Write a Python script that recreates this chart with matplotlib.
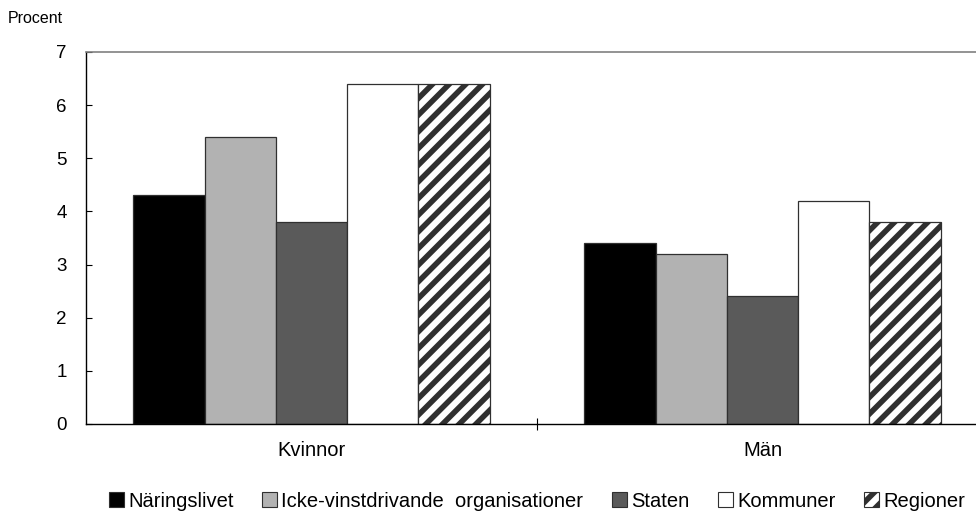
import matplotlib
matplotlib.use("Agg")
import matplotlib.pyplot as plt
import numpy as np
from matplotlib.patches import Patch

plt.rcParams['font.family'] = ['Liberation Sans', 'DejaVu Sans']
plt.rcParams['hatch.linewidth'] = 4.0

categories = ["Kvinnor", "Män"]
series = ["Näringslivet", "Icke-vinstdrivande  organisationer", "Staten", "Kommuner", "Regioner"]
naringslivet = [4.3, 3.4]
icke_vinst = [5.4, 3.2]
staten = [3.8, 2.4]
kommuner = [6.4, 4.2]
regioner = [6.4, 3.8]
values = [naringslivet, icke_vinst, staten, kommuner, regioner]
yticks = [0, 1, 2, 3, 4, 5, 6, 7]

facecolors = ["#000000", "#b2b2b2", "#5a5a5a", "#ffffff", "#ffffff"]
hatches = [None, None, None, None, "//"]

fig = plt.figure(figsize=(9.76, 5.13), dpi=100)
ax = fig.add_axes([86/976, 89/513, 902/976, 372/513])

x = np.arange(len(categories))
w = 0.158
for i, (vals, fc, h) in enumerate(zip(values, facecolors, hatches)):
    ax.bar(x + (i - 2) * w, vals, width=w, color=fc, edgecolor="#303030",
           linewidth=0.9, hatch=h, label=series[i], zorder=2)

ax.set_xlim(-0.5, 1.5)
ax.set_ylim(0, 7)
ax.set_yticks(yticks)
ax.tick_params(axis='y', direction='in', length=4, width=0.8, pad=14, labelsize=13.5)
ax.set_xticks([0.5])
ax.set_xticklabels([])
ax.tick_params(axis='x', which='major', direction='inout', length=9, width=0.8)
ax.set_xticks(x, minor=True)
ax.set_xticklabels(categories, minor=True)
ax.tick_params(axis='x', which='minor', length=0, pad=12, labelsize=14.5)

ax.spines['right'].set_visible(False)
ax.spines['top'].set_color('#808080')
ax.spines['top'].set_linewidth(1.2)
ax.spines['left'].set_linewidth(1.0)
ax.spines['bottom'].set_linewidth(1.0)

fig.text(8/976, 1 - 11/513, "Procent", fontsize=11.5, va='top', ha='left')

handles = [Patch(facecolor=fc, edgecolor="#303030", hatch=h, linewidth=0.8)
           for fc, h in zip(facecolors, hatches)]
leg = fig.legend(handles, series, loc='lower left', bbox_to_anchor=(93/976, -14/513),
                 ncol=5, frameon=False, fontsize=14.5, handlelength=0.75, handleheight=0.75,
                 handletextpad=0.2, columnspacing=1.42, borderpad=0.3)

fig.savefig("out.png", dpi=100)
